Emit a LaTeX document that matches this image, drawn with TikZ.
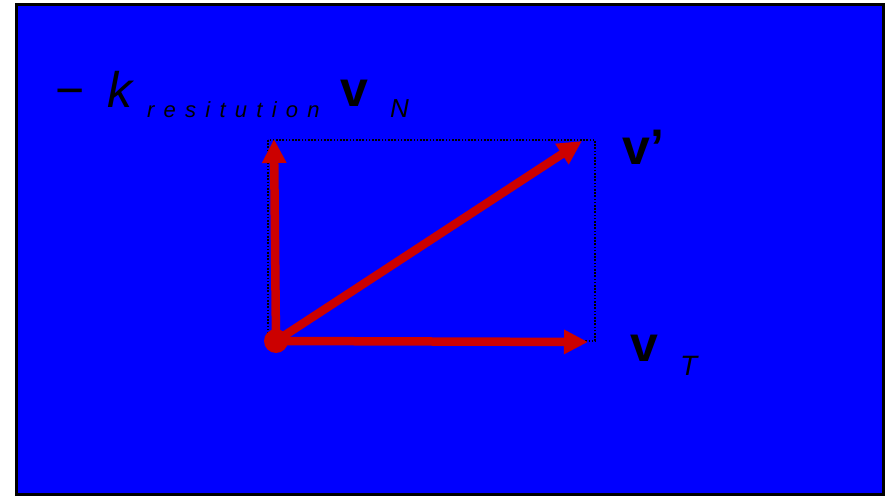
\documentclass[tikz,border=0pt]{standalone}
\usepackage{fontspec}
\setmainfont{Liberation Sans}
\usetikzlibrary{arrows.meta}
\definecolor{panelblue}{RGB}{0,0,255}
\definecolor{vecred}{RGB}{204,0,0}
\begin{document}
\begin{tikzpicture}[x=1pt, y=-1pt,
  vec/.style={vecred, line width=8.5pt, -{Triangle[length=24pt,width=23pt]}},
  guide/.style={black, line width=2pt, dash pattern=on 1.6pt off 1.6pt},
  big/.style={inner sep=0pt, anchor=base west, font=\fontsize{50}{50}\selectfont},
  small/.style={inner sep=0pt, anchor=base west, font=\fontsize{26}{26}\selectfont\itshape}]
  \useasboundingbox (0,0) rectangle (887,497);

  % blue panel
  \draw[line width=3pt, fill=panelblue] (16.5,4.5) rectangle (883.5,494.5);

  % dotted parallelogram of the components
  \draw[guide] (268,140) rectangle (595,341);

  % vector ends
  \coordinate (O) at (276,341);
  \coordinate (N) at (274,139);
  \coordinate (T) at (588,342);
  \coordinate (P) at (582,141);

  % vectors
  \draw[vec] (O) -- (N);
  \draw[vec] (O) -- (T);
  \draw[vec] (O) -- (P);
  \fill[vecred] (O) circle (12);

  % label of the normal part
  \node[big] (minus) at (55,108) {−};
  \node[big, font=\fontsize{50}{50}\selectfont\itshape] (k) at (107,108) {k};
  \node[small, font=\fontsize{22}{22}\selectfont\itshape\addfontfeature{LetterSpace=42}] (rest) at (147,118) {resitution};
  \node[big, font=\fontsize{50}{50}\selectfont\bfseries] (vn) at (340,107) {v};
  \node[small] (nsub) at (390,118) {N};

  % label of the result
  \node[big, font=\fontsize{50}{50}\selectfont\bfseries] (vp) at (622,165) {v’};

  % label of the tangential part
  \node[big, font=\fontsize{50}{50}\selectfont\bfseries] (vt) at (630,362) {v};
  \node[small, font=\fontsize{28}{28}\selectfont\itshape] (tsub) at (680,375) {T};
\end{tikzpicture}
\end{document}
